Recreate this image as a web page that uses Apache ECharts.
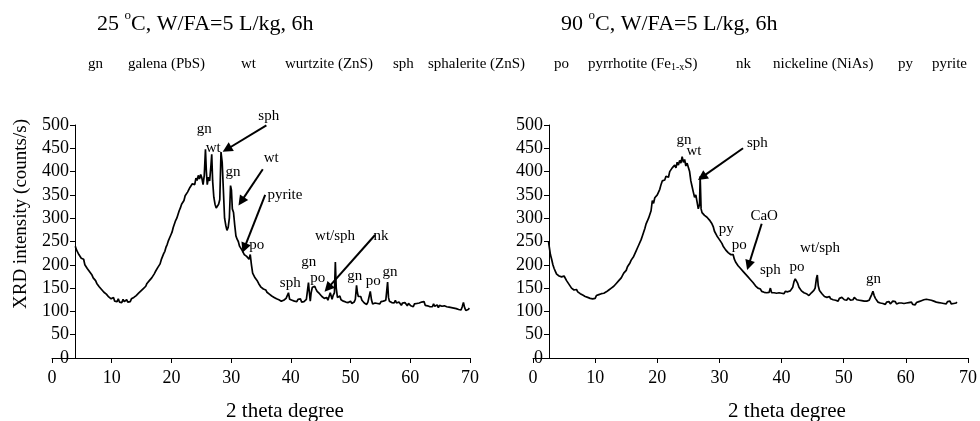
<!DOCTYPE html>
<html><head><meta charset="utf-8">
<script src="https://cdn.jsdelivr.net/npm/echarts@6/dist/echarts.min.js"></script>
<style>html,body{margin:0;padding:0;background:#fff}#c{width:980px;height:421px}</style>
</head><body><div id="c"></div>
<script>
// ---------- data ----------
const xMin = 0, xMax = 70, xStep = 10;
const yMin = 0, yMax = 500, yStep = 50;
const titles = ['{n|25 }{sup|o}{n|C, W/FA=5 L/kg, 6h}', '{n|90 }{sup|o}{n|C, W/FA=5 L/kg, 6h}'];
const xName = '2 theta degree';
const yName = 'XRD intensity (counts/s)';
const legendCodes = ['gn', 'wt', 'sph', 'po', 'nk', 'py'];
const legendNames = ['galena (PbS)', 'wurtzite (ZnS)', 'sphalerite (ZnS)', 'pyrrhotite (Fe{sub|1-x}S)', 'nickeline (NiAs)', 'pyrite'];

// 25 °C pattern: [2theta, counts/s]
const xrd25 = [
[3.9,240],[4.1,232],[4.3,236],[4.5,222],[4.7,225],[4.9,214],[5.1,210],[5.3,212],[5.5,200],[5.7,203],
[5.9,192],[6.1,190],[6.3,185],[6.5,181],[6.7,178],[6.9,172],[7.1,168],[7.3,166],[7.5,160],[7.7,158],
[7.9,153],[8.1,150],[8.3,147],[8.5,144],[8.7,141],[8.9,138],[9.1,137],[9.3,133],[9.5,131],[9.7,134],
[9.9,127],[10.1,126],[10.3,130],[10.5,122],[10.7,125],[10.9,121],[11.1,127],[11.3,120],[11.5,124],[11.7,119],
[11.9,126],[12.1,121],[12.3,118],[12.5,125],[12.7,120],[12.9,124],[13.1,121],[13.3,127],[13.5,125],[13.7,130],
[13.9,128],[14.1,134],[14.3,133],[14.5,139],[14.7,137],[14.9,144],[15.1,143],[15.3,149],[15.5,151],[15.7,154],
[15.9,160],[16.1,158],[16.3,166],[16.5,168],[16.7,172],[16.9,176],[17.1,180],[17.3,185],[17.5,184],[17.7,194],
[17.9,198],[18.1,202],[18.3,211],[18.5,214],[18.7,224],[18.9,229],[19.1,238],[19.3,244],[19.5,252],[19.7,258],
[19.9,264],[20.1,270],[20.3,280],[20.5,284],[20.7,295],[20.9,300],[21.1,308],[21.3,316],[21.5,322],[21.7,330],
[21.9,334],[22.1,338],[22.3,348],[22.5,344],[22.7,356],[22.9,354],[23.1,366],[23.3,362],[23.5,374],[23.7,378],
[23.9,372],[24.1,386],[24.3,381],[24.5,392],[24.7,384],[24.9,394],[25.1,386],[25.3,372],[25.5,392],[25.7,448],
[25.85,400],[26.0,372],[26.2,388],[26.4,380],[26.6,410],[26.75,437],[26.9,380],[27.1,345],[27.3,330],[27.5,322],
[27.7,318],[27.9,330],[28.1,340],[28.3,442],[28.5,420],[28.7,360],[28.9,300],[29.1,285],[29.3,274],[29.5,280],
[29.7,300],[29.9,370],[30.05,360],[30.2,320],[30.4,312],[30.6,285],[30.8,262],[31.0,255],[31.2,250],[31.4,240],
[31.6,238],[31.8,232],[32.0,228],[32.2,222],[32.4,226],[32.6,218],[32.8,220],[33.0,212],[33.2,222],[33.4,200],
[33.6,182],[33.8,180],[34.0,172],[34.2,168],[34.4,165],[34.6,160],[34.8,156],[35.0,152],[35.2,154],[35.4,148],
[35.6,145],[35.8,146],[36.0,141],[36.2,140],[36.4,137],[36.6,138],[36.8,133],[37.0,135],[37.2,130],[37.4,131],
[37.6,127],[37.8,129],[38.0,125],[38.2,128],[38.4,122],[38.6,126],[38.8,124],[39.0,121],[39.2,128],[39.4,125],
[39.6,140],[39.8,126],[40.0,128],[40.2,124],[40.4,127],[40.6,122],[40.8,125],[41.0,121],[41.2,126],[41.4,123],
[41.6,127],[41.8,120],[42.0,124],[42.2,121],[42.4,119],[42.6,126],[42.8,128],[42.95,162],[43.1,140],[43.25,122],
[43.4,140],[43.6,152],[43.8,156],[44.0,154],[44.2,148],[44.4,143],[44.6,146],[44.8,138],[45.0,135],[45.2,132],
[45.4,136],[45.6,128],[45.8,126],[46.0,130],[46.2,124],[46.4,128],[46.6,140],[46.75,142],[46.9,126],[47.1,135],
[47.3,140],[47.45,206],[47.6,150],[47.8,130],[48.0,128],[48.2,133],[48.4,125],[48.6,127],[48.8,122],[49.0,126],
[49.2,120],[49.4,123],[49.6,119],[49.8,118],[50.0,122],[50.2,117],[50.4,121],[50.6,120],[50.8,126],[51.0,156],
[51.15,140],[51.3,132],[51.5,128],[51.7,132],[51.9,124],[52.1,120],[52.3,118],[52.5,121],[52.7,115],[52.9,120],
[53.1,124],[53.3,143],[53.5,125],[53.7,116],[53.9,120],[54.1,118],[54.3,122],[54.5,117],[54.7,120],[54.9,116],
[55.1,121],[55.3,118],[55.5,122],[55.7,120],[55.9,124],[56.1,128],[56.2,163],[56.35,130],[56.5,122],[56.7,126],
[56.9,119],[57.1,122],[57.3,118],[57.5,124],[57.7,118],[57.9,115],[58.1,120],[58.3,117],[58.5,113],[58.7,118],
[58.9,114],[59.1,119],[59.3,115],[59.5,112],[59.7,117],[59.9,114],[60.1,112],[60.3,115],[60.5,110],[60.7,116],
[60.9,112],[61.1,117],[61.3,113],[61.5,118],[61.7,114],[61.9,120],[62.1,116],[62.3,121],[62.5,113],[62.7,117],
[62.9,112],[63.1,116],[63.3,110],[63.5,114],[63.7,110],[63.9,116],[64.1,111],[64.3,109],[64.5,114],[64.7,108],
[64.9,113],[65.1,109],[65.3,111],[65.5,107],[65.7,112],[65.9,108],[66.1,110],[66.3,106],[66.5,109],[66.7,105],
[66.9,108],[67.1,104],[67.3,107],[67.5,103],[67.7,106],[67.9,102],[68.1,104],[68.3,100],[68.5,103],[68.7,110],
[68.9,119],[69.1,108],[69.3,102],[69.5,106],[69.7,104],[69.9,107]
];

// 90 °C pattern: [2theta, counts/s]
const xrd90 = [
[2.5,250],[2.6,240],[2.8,222],[3.0,212],[3.2,200],[3.4,192],[3.6,186],[3.8,180],[4.0,178],[4.2,176],
[4.4,172],[4.6,174],[4.8,171],[5.0,176],[5.2,172],[5.4,166],[5.6,162],[5.8,158],[6.0,154],[6.2,150],
[6.4,151],[6.6,146],[6.8,144],[7.0,147],[7.2,142],[7.4,144],[7.6,138],[7.8,140],[8.0,135],[8.2,136],
[8.4,132],[8.6,134],[8.8,130],[9.0,131],[9.2,128],[9.4,132],[9.6,127],[9.8,130],[10.0,128],[10.2,134],
[10.4,130],[10.6,136],[10.8,132],[11.0,138],[11.2,134],[11.4,139],[11.6,136],[11.8,142],[12.0,140],[12.2,146],
[12.4,144],[12.6,150],[12.8,148],[13.0,154],[13.2,152],[13.4,160],[13.6,158],[13.8,166],[14.0,164],[14.2,172],
[14.4,176],[14.6,182],[14.8,186],[15.0,188],[15.2,196],[15.4,200],[15.6,204],[15.8,210],[16.0,212],[16.2,218],
[16.4,222],[16.6,230],[16.8,236],[17.0,242],[17.2,246],[17.4,254],[17.6,262],[17.8,270],[18.0,278],[18.2,288],
[18.4,290],[18.6,300],[18.8,308],[19.0,316],[19.2,338],[19.4,332],[19.6,344],[19.8,340],[20.0,350],[20.2,348],
[20.4,362],[20.6,372],[20.8,380],[21.0,384],[21.2,382],[21.4,390],[21.6,392],[21.8,388],[22.0,400],[22.2,396],
[22.4,408],[22.6,404],[22.8,414],[23.0,408],[23.2,420],[23.4,414],[23.6,424],[23.8,418],[24.0,432],[24.2,420],
[24.4,426],[24.6,412],[24.8,418],[25.0,414],[25.2,400],[25.4,380],[25.6,368],[25.8,356],[26.0,345],[26.2,350],
[26.4,335],[26.6,320],[26.8,330],[26.9,390],[27.05,320],[27.2,312],[27.4,314],[27.6,306],[27.8,310],[28.0,302],
[28.2,304],[28.4,296],[28.6,298],[28.8,288],[29.0,282],[29.2,272],[29.4,268],[29.6,262],[29.8,264],[30.0,254],
[30.2,250],[30.4,246],[30.6,240],[30.8,236],[31.0,232],[31.2,234],[31.4,226],[31.6,228],[31.8,222],[32.0,218],
[32.2,222],[32.4,212],[32.6,206],[32.8,202],[33.0,198],[33.2,196],[33.4,192],[33.6,190],[33.8,186],[34.0,184],
[34.2,180],[34.4,178],[34.6,174],[34.8,172],[35.0,168],[35.2,166],[35.4,162],[35.6,158],[35.8,155],[36.0,152],
[36.2,150],[36.4,146],[36.6,148],[36.8,143],[37.0,145],[37.2,141],[37.4,144],[37.6,140],[37.8,143],[38.0,141],
[38.2,150],[38.4,140],[38.6,144],[38.8,140],[39.0,143],[39.2,139],[39.4,142],[39.6,140],[39.8,144],[40.0,139],
[40.2,142],[40.4,138],[40.6,143],[40.8,140],[41.0,142],[41.2,139],[41.4,144],[41.6,142],[41.8,152],[42.0,164],
[42.2,170],[42.4,168],[42.6,160],[42.8,152],[43.0,148],[43.2,144],[43.4,146],[43.6,140],[43.8,142],[44.0,138],
[44.2,136],[44.4,134],[44.6,138],[44.8,140],[45.0,142],[45.2,145],[45.4,150],[45.6,170],[45.75,178],[45.9,155],
[46.1,145],[46.3,142],[46.5,138],[46.7,135],[46.9,132],[47.1,134],[47.3,130],[47.5,128],[47.7,132],[47.9,127],
[48.1,130],[48.3,125],[48.5,127],[48.7,124],[48.9,126],[49.1,122],[49.3,128],[49.5,125],[49.7,130],[49.9,127],
[50.1,125],[50.3,127],[50.5,124],[50.7,129],[50.9,126],[51.1,124],[51.3,127],[51.5,125],[51.7,130],[51.9,127],
[52.1,125],[52.3,128],[52.5,124],[52.7,126],[52.9,123],[53.1,125],[53.3,122],[53.5,120],[53.7,122],[53.9,119],
[54.1,124],[54.3,130],[54.5,136],[54.7,143],[54.9,134],[55.1,128],[55.3,124],[55.5,120],[55.7,122],[55.9,118],
[56.1,121],[56.3,117],[56.5,119],[56.7,115],[56.9,120],[57.1,117],[57.3,121],[57.5,116],[57.7,119],[57.9,122],
[58.1,118],[58.3,121],[58.5,116],[58.7,120],[58.9,118],[59.1,122],[59.3,118],[59.5,121],[59.7,117],[59.9,120],
[60.1,118],[60.3,122],[60.5,119],[60.7,116],[60.9,120],[61.1,115],[61.3,118],[61.5,114],[61.7,119],[61.9,116],
[62.1,121],[62.3,117],[62.5,123],[62.7,120],[62.9,125],[63.1,128],[63.3,126],[63.5,129],[63.7,125],[63.9,127],
[64.1,124],[64.3,126],[64.5,122],[64.7,125],[64.9,120],[65.1,123],[65.3,119],[65.5,122],[65.7,118],[65.9,121],
[66.1,117],[66.3,120],[66.5,116],[66.7,121],[66.9,118],[67.1,122],[67.3,116],[67.5,120],[67.7,117],[67.9,121],
[68.1,118],[68.2,120]
];

// peak labels: [text, 2theta, counts/s]
const labels25 = [
['gn',25.5,491],['wt',27.0,451],['gn',30.3,399],['sph',36.3,519],['wt',36.7,429],['pyrite',39.0,350],
['po',34.3,243],['wt/sph',47.4,262],['nk',55.1,262],['gn',43.0,206],['po',44.5,172],['sph',39.9,160],
['gn',50.7,176],['po',53.8,166],['gn',56.6,185]
];
const arrows25 = [
[[35.9,499],[29.3,448]],[[35.3,405],[31.7,336]],[[35.7,350],[32.2,236]],[[54.1,264],[46.2,150]]
];
const labels90 = [
['gn',24.3,468],['wt',25.9,443],['sph',36.1,462],['py',31.1,276],['po',33.2,242],['CaO',37.2,304],
['sph',38.2,189],['po',42.5,195],['wt/sph',46.2,236],['gn',54.8,169]
];
const arrows90 = [
[[33.8,450],[27.2,388]],[[36.8,288],[34.7,199]]
];

// ---------- chart ----------
const FONT = 'Liberation Serif';
const chart = echarts.init(document.getElementById('c'), null, {renderer: 'canvas'});

function xAxisCfg(gi) {
  return {
    gridIndex: gi, type: 'value', min: xMin, max: xMax, interval: xStep,
    axisLine: {show: true, onZero: false, lineStyle: {color: '#000', width: 1}},
    axisTick: {show: true, length: 5, lineStyle: {color: '#000', width: 1}},
    axisLabel: {color: '#000', fontFamily: FONT, fontSize: 18, margin: 11},
    splitLine: {show: false}
  };
}
function yAxisCfg(gi, off) {
  return {
    gridIndex: gi, type: 'value', min: yMin, max: yMax, interval: yStep, offset: off,
    axisLine: {show: true, onZero: false, lineStyle: {color: '#000', width: 1}},
    axisTick: {show: true, length: 5, lineStyle: {color: '#000', width: 1}},
    axisLabel: {color: '#000', fontFamily: FONT, fontSize: 18, margin: 6},
    splitLine: {show: false}
  };
}
function lineSeries(idx, data, arrows) {
  return {
    type: 'line', xAxisIndex: idx, yAxisIndex: idx, data: data,
    showSymbol: false, symbol: 'none', animation: false, silent: true,
    lineStyle: {color: '#000', width: 1.7},
    markLine: {
      silent: true, animation: false,
      symbol: ['none', 'triangle'], symbolSize: 10,
      lineStyle: {color: '#000', width: 2, type: 'solid'},
      itemStyle: {color: '#000'},
      label: {show: false},
      emphasis: {disabled: true},
      data: arrows.map(a => [{coord: a[0]}, {coord: a[1]}])
    }
  };
}

chart.setOption({
  animation: false,
  backgroundColor: '#fff',
  grid: [
    {left: 52, top: 125, width: 418, height: 233, outerBoundsMode: 'none', containLabel: false},
    {left: 533, top: 125, width: 435, height: 233, outerBoundsMode: 'none', containLabel: false}
  ],
  xAxis: [xAxisCfg(0), xAxisCfg(1)],
  yAxis: [yAxisCfg(0, -23), yAxisCfg(1, -16)],
  series: [lineSeries(0, xrd25, arrows25), lineSeries(1, xrd90, arrows90)]
});

// ---------- text layer ----------
const g = [];
function addText(x, y, text, size, extra) {
  g.push({
    type: 'text', x: x, y: y, silent: true,
    style: Object.assign({
      text: text, fontFamily: FONT, fontSize: size, fill: '#000',
      align: 'left', verticalAlign: 'middle'
    }, extra || {})
  });
}
const titleRich = {
  n: {fontSize: 22, lineHeight: 30, fontFamily: FONT, fill: '#000'},
  sup: {fontSize: 13, lineHeight: 14, verticalAlign: 'top', fontFamily: FONT, fill: '#000'}
};
addText(97, 24, titles[0], 22, {rich: titleRich});
addText(561, 24, titles[1], 22, {rich: titleRich});

const subRich = {sub: {fontSize: 10, verticalAlign: 'bottom', padding: [6, 0, 0, 0], fontFamily: FONT, fill: '#000'}};
const codeX = [88, 241, 393, 554, 736, 898];
const nameX = [128, 285, 428, 588, 773, 932];
legendCodes.forEach((c, i) => addText(codeX[i], 64, c, 15));
legendNames.forEach((n, i) => addText(nameX[i], 64, n, 15, {rich: subRich}));

// axis names
addText(285, 411, xName, 21, {align: 'center'});
addText(787, 411, xName, 21, {align: 'center'});
g.push({
  type: 'text', x: 21, y: 214, rotation: Math.PI / 2, silent: true,
  style: {text: yName, fontFamily: FONT, fontSize: 19, fill: '#000', align: 'center', verticalAlign: 'middle'}
});

// peak labels placed through the axes' scales
function addLabels(gi, list) {
  list.forEach(l => {
    const p = chart.convertToPixel({gridIndex: gi}, [l[1], l[2]]);
    addText(p[0], p[1], l[0], 15, {align: 'center'});
  });
}
addLabels(0, labels25);
addLabels(1, labels90);

chart.setOption({graphic: {elements: g}});
</script>
</body></html>
